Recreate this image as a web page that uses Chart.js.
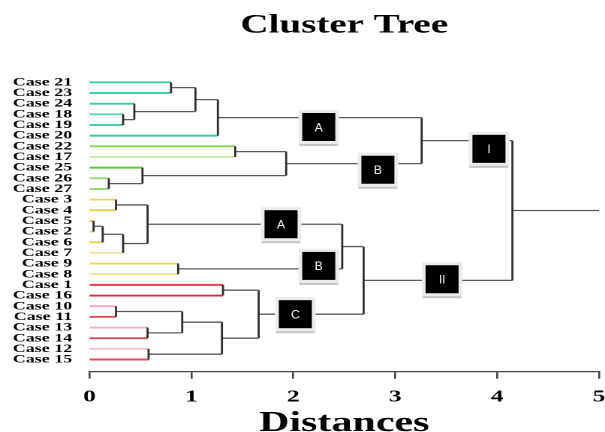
<!DOCTYPE html>
<html><head><meta charset="utf-8">
<script src="https://cdn.jsdelivr.net/npm/chart.js@4.4.1/dist/chart.umd.min.js"></script>
<style>
html,body{margin:0;padding:0;background:#fff;overflow:hidden;}
#wrap{position:absolute;left:0;top:0;width:403px;height:432px;transform:scaleX(1.50124);transform-origin:0 0;}
</style></head><body>
<div id="wrap"><canvas id="c"></canvas></div>
<script>
// ---- data ----
const caseLabels = ['Case 21','Case 23','Case 24','Case 18','Case 19','Case 20','Case 22','Case 17','Case 25','Case 26','Case 27',
  'Case 3','Case 4','Case 5','Case 2','Case 6','Case 7','Case 9','Case 8',
  'Case 1','Case 16','Case 10','Case 11','Case 13','Case 14','Case 12','Case 15'];
// merge list: [child a, child b, distance]; leaves are 0..26 (row order), merge k becomes node 27+k
const mergeA = [0, 3, 2, 27, 30, 6, 9, 8, 32, 31, 11, 13, 38, 39, 37, 17, 41, 19, 21, 23, 45, 25, 47, 44, 43, 36];
const mergeB = [1, 4, 28, 29, 5, 7, 10, 33, 34, 35, 12, 14, 15, 16, 40, 18, 42, 20, 22, 24, 46, 26, 48, 49, 50, 51];
const mergeDist = [0.80, 0.33, 0.44, 1.04, 1.26, 1.43, 0.19, 0.52, 1.93, 3.26, 0.26, 0.04, 0.13, 0.33, 0.57, 0.87, 2.48, 1.31, 0.26, 0.57, 0.91, 0.58, 1.30, 1.66, 2.69, 4.15];
const rootTailEnd = 5;
const clusterTags = ['A','B','I','A','B','II','C'];
const tagDist = [2.25, 2.83, 3.92, 1.88, 2.25, 3.46, 2.02];
const tagRow  = [4.19, 8.20, 6.24, 13.31, 17.22, 18.47, 21.75];
const xTickValues = [0,1,2,3,4,5];

// ---- styles ----
const leafColors = ['#3ec9a7','#3ec9a7','#3ec9a7','#5fd3b5','#3ec9a7','#3ec9a7',
  '#7fd65a','#cde8a8','#5cc93a','#9ad97a','#8fd66a',
  '#e8d46a','#e3cf55','#e3cf55','#e9da7a','#e3cf55','#efe6a8','#e8d860','#eee29a',
  '#e0404f','#dc2f45','#f2a6b4','#e04a5a','#f3b0bc','#e04a5a','#f6c5cf','#e04a5a'];
const HCOL = '#5a5a5a', VCOL = '#2e2e2e';
const SERIF = '"Liberation Serif","Times New Roman",serif';

// ---- build dendrogram segments ----
const N = caseLabels.length;
const nodeH = [], nodeY = [];
for (let i = 0; i < N; i++) { nodeH.push(0); nodeY.push(i); }
const leafSets = [], innerSets = [];
function seg(arr, pts, color, w) {
  arr.push({data: pts, borderColor: color, borderWidth: w, pointRadius: 0, pointHoverRadius: 0,
    showLine: true, fill: false, borderCapStyle: 'butt', tension: 0});
}
for (let k = 0; k < mergeDist.length; k++) {
  const a = mergeA[k], b = mergeB[k], h = mergeDist[k];
  [a, b].forEach(c => {
    if (c < N) seg(leafSets, [{x: 0, y: nodeY[c]}, {x: h, y: nodeY[c]}], leafColors[c], 1.9);
    else seg(innerSets, [{x: nodeH[c], y: nodeY[c]}, {x: h, y: nodeY[c]}], HCOL, 1.3);
  });
  seg(innerSets, [{x: h, y: nodeY[a]}, {x: h, y: nodeY[b]}], VCOL, 1.4);
  nodeH.push(h); nodeY.push((nodeY[a] + nodeY[b]) / 2);
}
const root = nodeH.length - 1;
seg(innerSets, [{x: nodeH[root], y: nodeY[root]}, {x: rootTailEnd, y: nodeY[root]}], HCOL, 1.3);

const tagPlugin = {
  id: 'tags',
  afterDatasetsDraw(chart) {
    const {ctx, scales: {x, y}} = chart;
    clusterTags.forEach((t, i) => {
      const cx = x.getPixelForValue(tagDist[i]), cy = y.getPixelForValue(tagRow[i]);
      const w = 22, h = 28;
      ctx.save();
      ctx.fillStyle = '#c4c4c4';
      ctx.fillRect(cx - w / 2 - 2, cy - h / 2 - 2, w + 4, h + 7);
      ctx.fillStyle = '#ececec';
      ctx.fillRect(cx - w / 2 - 2.5, cy - h / 2 - 3, w + 5, h + 6);
      ctx.fillStyle = '#000';
      ctx.fillRect(cx - w / 2, cy - h / 2, w, h);
      ctx.translate(cx, cy);
      ctx.scale(1 / 1.5, 1);
      ctx.fillStyle = '#fff';
      ctx.font = '12px "Liberation Sans", Arial, sans-serif';
      ctx.textAlign = 'center';
      ctx.textBaseline = 'middle';
      ctx.fillText(t, 0, 1);
      ctx.restore();
    });
  }
};

new Chart(document.getElementById('c'), {
  type: 'scatter',
  data: {datasets: innerSets.concat(leafSets)},
  options: {
    responsive: true,
    maintainAspectRatio: false,
    devicePixelRatio: 2,
    animation: false,
    events: [],
    layout: {padding: {left: 0, right: 4, top: 0, bottom: 0}},
    plugins: {
      legend: {display: false},
      tooltip: {enabled: false},
      title: {
        display: true, text: 'Cluster Tree', color: '#000', fullSize: false,
        font: {family: SERIF, size: 26, weight: 'bold', lineHeight: 1.2},
        padding: {top: 10, bottom: 35.8}
      }
    },
    scales: {
      x: {
        type: 'linear', min: 0, max: 5,
        afterBuildTicks: s => { s.ticks = xTickValues.map(v => ({value: v})); },
        afterFit: s => { s.height = 60.3; s.paddingRight = 0; s.paddingLeft = 0; },
        border: {display: true, color: '#444', width: 1.3},
        grid: {display: true, drawOnChartArea: false, drawTicks: true, tickLength: 7, color: '#444', lineWidth: 1.3},
        ticks: {color: '#000', padding: 8, font: {family: SERIF, size: 17, weight: 'bold', lineHeight: 1.2}},
        title: {display: true, text: 'Distances', color: '#000',
          font: {family: SERIF, size: 28, weight: 'bold', lineHeight: 1}, padding: {top: 0, bottom: -6}}
      },
      y: {
        type: 'linear', reverse: true, min: -0.5, max: 27.144,
        afterBuildTicks: s => { s.ticks = caseLabels.map((_, i) => ({value: i})); },
        afterFit: s => { s.width = 59.6; },
        border: {display: false},
        grid: {display: false, drawTicks: false},
        ticks: {autoSkip: false, color: '#000', padding: 11.5,
          font: {family: SERIF, size: 12, weight: 'bold', lineHeight: 1},
          callback: v => caseLabels[v] ?? ''}
      }
    }
  },
  plugins: [tagPlugin]
});
</script>
</body></html>
